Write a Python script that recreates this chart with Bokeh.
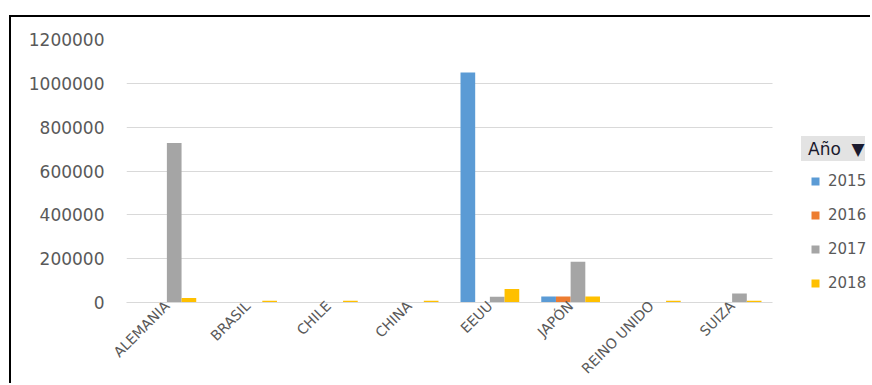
import numpy as np
from bokeh.plotting import figure
from bokeh.models import (ColumnDataSource, Range1d, FixedTicker, Legend,
                          LegendItem, BasicTickFormatter)
from bokeh.embed import file_html
from bokeh.resources import INLINE

countries = ["ALEMANIA", "BRASIL", "CHILE", "CHINA", "EEUU", "JAPÓN", "REINO UNIDO", "SUIZA"]
years = ["2015", "2016", "2017", "2018"]
v2015 = [0, 0, 0, 0, 1050000, 27000, 0, 0]
v2016 = [0, 0, 0, 0, 0, 27000, 0, 0]
v2017 = [728000, 0, 0, 0, 26000, 186000, 0, 41000]
v2018 = [21000, 8000, 8000, 8000, 62000, 27000, 8000, 8000]
colors = ["#5B9BD5", "#ED7D31", "#A5A5A5", "#FFC000"]
y_ticks = [0, 200000, 400000, 600000, 800000, 1000000, 1200000]
legend_title = "Año  ▼"

n = len(countries)
centers = np.arange(n) + 0.5
src = ColumnDataSource(data=dict(x=centers, y2015=v2015, y2016=v2016, y2017=v2017, y2018=v2018))

FONT = "DejaVu Sans"
# canvas starts at page (11, 17) because of margin + 2px black border
W, H = 861, 368
LEFT = 115
cat_px = 80.75
x_end = (W - LEFT) / cat_px   # plot area continues under the legend column
p = figure(width=W, height=H, x_range=Range1d(0, x_end),
           y_range=Range1d(0, 1200000), output_backend="svg", toolbar_location=None,
           min_border_left=LEFT, min_border_right=0, min_border_top=22, min_border_bottom=82)
p.margin = (15, 0, 0, 9)
p.styles = {"border-top": "2px solid black", "border-left": "2px solid black"}
p.outline_line_color = None
p.background_fill_color = "white"
p.border_fill_color = "white"

cols = ["y2015", "y2016", "y2017", "y2018"]
offsets = [-0.2727, -0.0909, 0.0909, 0.2727]
renderers = []
for c, off, col in zip(cols, offsets, colors):
    src_c = ColumnDataSource(data=dict(x=centers + off, top=src.data[c]))
    r = p.vbar(x="x", top="top", width=0.1818, source=src_c, fill_color=col, line_color=None)
    renderers.append(r)

# invisible renderer used only to carry the legend header item
hdr = p.vbar(x="x", top="y2016", width=0.01, source=src, fill_alpha=0, line_alpha=0)

# axes
for ax in (p.xaxis, p.yaxis):
    ax.major_tick_out = 0
    ax.major_tick_in = 0
    ax.minor_tick_out = 0
    ax.minor_tick_in = 0
    ax.major_tick_line_color = None
    ax.minor_tick_line_color = None

p.yaxis.ticker = FixedTicker(ticks=y_ticks)
p.yaxis.formatter = BasicTickFormatter(use_scientific=False)
p.yaxis.axis_line_color = None
p.yaxis.major_label_text_color = "#595959"
p.yaxis.major_label_text_font = FONT
p.yaxis.major_label_text_font_size = "17px"
p.yaxis.major_label_standoff = 22

p.xaxis.ticker = FixedTicker(ticks=list(centers))
p.xaxis.major_label_overrides = {float(c): name for c, name in zip(centers, countries)}
p.xaxis.bounds = (0, n)
p.xaxis.axis_line_color = "#D9D9D9"
p.xaxis.axis_line_width = 1
p.xaxis.major_label_orientation = 0.785398
p.xaxis.major_label_text_color = "#595959"
p.xaxis.major_label_text_font = FONT
p.xaxis.major_label_text_font_size = "14px"
p.xaxis.major_label_standoff = 1

p.xgrid.grid_line_color = None
p.ygrid.grid_line_color = "#D9D9D9"
p.ygrid.grid_line_width = 1
p.ygrid.cross_bounds = (0, n)

# legend header ("Año" filter button)
head = Legend(items=[LegendItem(label=legend_title, renderers=[hdr])],
              location=(675, 141), glyph_width=0, glyph_height=25, label_standoff=7,
              label_text_font=FONT, label_text_font_size="17px", label_text_color="#1A1A2E",
              label_height=25, padding=0, margin=0, spacing=0,
              border_line_color=None, background_fill_color="#E3E3E3", background_fill_alpha=1)
p.add_layout(head)

legend = Legend(items=[LegendItem(label=y, renderers=[r]) for y, r in zip(years, renderers)],
                location=(684, 9),
                label_text_font=FONT, label_text_font_size="15px", label_text_color="#595959",
                glyph_width=10, glyph_height=10, label_standoff=8, spacing=14, label_height=20,
                padding=0, margin=0, border_line_color=None, background_fill_alpha=0)
p.add_layout(legend)

open("out.html", "w").write(file_html(p, INLINE))
